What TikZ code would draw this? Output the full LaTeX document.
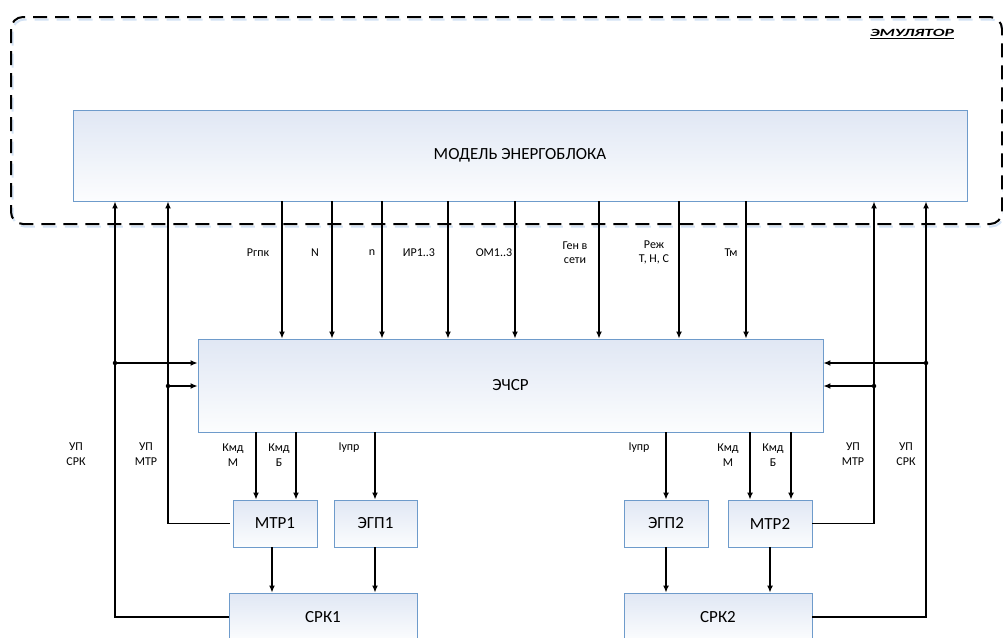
\documentclass[tikz,border=0pt]{standalone}
\usepackage{fontspec}
\setmainfont{Carlito}
\usetikzlibrary{arrows.meta,calc}
\definecolor{boxblue}{HTML}{6E9BCB}
\definecolor{topblue}{HTML}{E0E7F4}
\definecolor{botblue}{HTML}{FCFDFE}
\definecolor{shadowblue}{HTML}{D3E2F4}
\begin{document}
\begin{tikzpicture}[x=1pt,y=-1pt,
  box/.style={draw=boxblue, line width=0.9pt, top color=topblue, bottom color=botblue,
    inner sep=0pt, font=\fontsize{17}{19}\selectfont},
  lbl/.style={font=\fontsize{12}{14.5}\selectfont, align=center, inner sep=0pt},
  conn/.style={line width=1.3pt},
  arr/.style={conn, -{Latex[length=7pt,width=6pt]}},
  jdot/.style={circle, fill=black, inner sep=0pt, minimum size=4.5pt},
  emu/.style={dash pattern=on 14pt off 8pt, line width=2pt, rounded corners=12pt}
]
\useasboundingbox (0,0) rectangle (1003,637);
% emulator frame
\draw[emu, shadowblue, line width=2pt] (12.5,19.5) rectangle (1003.5,226.5);
\draw[emu] (11,17) rectangle (1002,224);
\node[font=\fontsize{11}{13}\selectfont\bfseries\itshape, inner sep=0pt] (emut) at (912,34)
  {\scalebox{1.6}[1]{\underline{ЭМУЛЯТОР}}};

% blocks
\node[box, minimum width=894pt, minimum height=91pt] (model) at (520,155.5) {МОДЕЛЬ ЭНЕРГОБЛОКА};
\node[box, minimum width=625pt, minimum height=93pt] (echsr) at (510.5,385.5) {ЭЧСР};
\node[box, minimum width=84pt, minimum height=47pt] (mtr1) at (275,523.5) {МТР1};
\node[box, minimum width=83pt, minimum height=47pt] (egp1) at (375.5,523.5) {ЭГП1};
\node[box, minimum width=188pt, minimum height=48pt] (srk1) at (323,617) {СРК1};
\node[box, minimum width=84pt, minimum height=47pt] (egp2) at (666,523.5) {ЭГП2};
\node[box, minimum width=84pt, minimum height=47pt] (mtr2) at (770,523.5) {МТР2};
\node[box, minimum width=188pt, minimum height=48pt] (srk2) at (718,617) {СРК2};

% x positions of signals
\coordinate (xa) at (115,0);
\coordinate (xb) at (168,0);
\coordinate (xc) at (874,0);
\coordinate (xd) at (926,0);
\coordinate (s1) at (282,0);
\coordinate (s2) at (332,0);
\coordinate (s3) at (382,0);
\coordinate (s4) at (448,0);
\coordinate (s5) at (515,0);
\coordinate (s6) at (599,0);
\coordinate (s7) at (679,0);
\coordinate (s8) at (746,0);
\coordinate (k1) at (256,0);
\coordinate (k2) at (296,0);
\coordinate (k3) at (375,0);
\coordinate (k4) at (666,0);
\coordinate (k5) at (750,0);
\coordinate (k6) at (791,0);

% model -> ECHSR
\foreach \s in {s1,s2,s3,s4,s5,s6,s7,s8}
  \draw[arr] (model.south -| \s) -- (echsr.north -| \s);

\node[lbl] (l1) at (258,253) {Pгпк};
\node[lbl] (l2) at (315,253) {N};
\node[lbl] (l3) at (372,253) {n};
\node[lbl] (l4) at (419,253) {ИР1..3};
\node[lbl] (l5) at (494,253) {ОМ1..3};
\node[lbl] (l6) at (575,252.5) {Ген в\\сети};
\node[lbl] (l7) at (654,252.5) {Реж\\Т, Н, С};
\node[lbl] (l8) at (731,253) {Тм};

% ECHSR -> actuators
\draw[arr] (echsr.south -| k1) -- (mtr1.north -| k1);
\draw[arr] (echsr.south -| k2) -- (mtr1.north -| k2);
\draw[arr] (echsr.south -| k3) -- (egp1.north -| k3);
\draw[arr] (echsr.south -| k4) -- (egp2.north -| k4);
\draw[arr] (echsr.south -| k5) -- (mtr2.north -| k5);
\draw[arr] (echsr.south -| k6) -- (mtr2.north -| k6);

\node[lbl] (b1) at (233,455) {Кмд\\М};
\node[lbl] (b2) at (279,455) {Кмд\\Б};
\node[lbl] (b3) at (349,448) {Iупр};
\node[lbl] (b4) at (639,448) {Iупр};
\node[lbl] (b5) at (728,455) {Кмд\\М};
\node[lbl] (b6) at (773,455) {Кмд\\Б};
\node[lbl] (b7) at (76,454) {УП\\СРК};
\node[lbl] (b8) at (146,454) {УП\\МТР};
\node[lbl] (b9) at (853,454) {УП\\МТР};
\node[lbl] (b10) at (906,454) {УП\\СРК};

% actuators -> SRK
\draw[arr] (mtr1.south) ++(-3,0) coordinate (m1s) -- (srk1.north -| m1s);
\draw[arr] (egp1.south -| k3) -- (srk1.north -| k3);
\draw[arr] (egp2.south -| k4) -- (srk2.north -| k4);
\draw[arr] (mtr2.south) coordinate (m2s) -- (srk2.north -| m2s);

% feedback lines to model
\draw[arr] (srk1.west) -| (model.south -| xa);
\draw[arr] (mtr1.west) ++(-3,0) -| (model.south -| xb);
\draw[arr] (mtr2.east) -| (model.south -| xc);
\draw[arr] (srk2.east) -| (model.south -| xd);

% branches to ECHSR
\node[jdot] (da) at (115,363) {};
\node[jdot] (db) at (168,386) {};
\node[jdot] (dc) at (874,386) {};
\node[jdot] (dd) at (926,363) {};
\draw[arr] (da.center) -- (da -| echsr.west);
\draw[arr] (db.center) -- (db -| echsr.west);
\draw[arr] (dc.center) -- (dc -| echsr.east);
\draw[arr] (dd.center) -- (dd -| echsr.east);
\end{tikzpicture}
\end{document}
